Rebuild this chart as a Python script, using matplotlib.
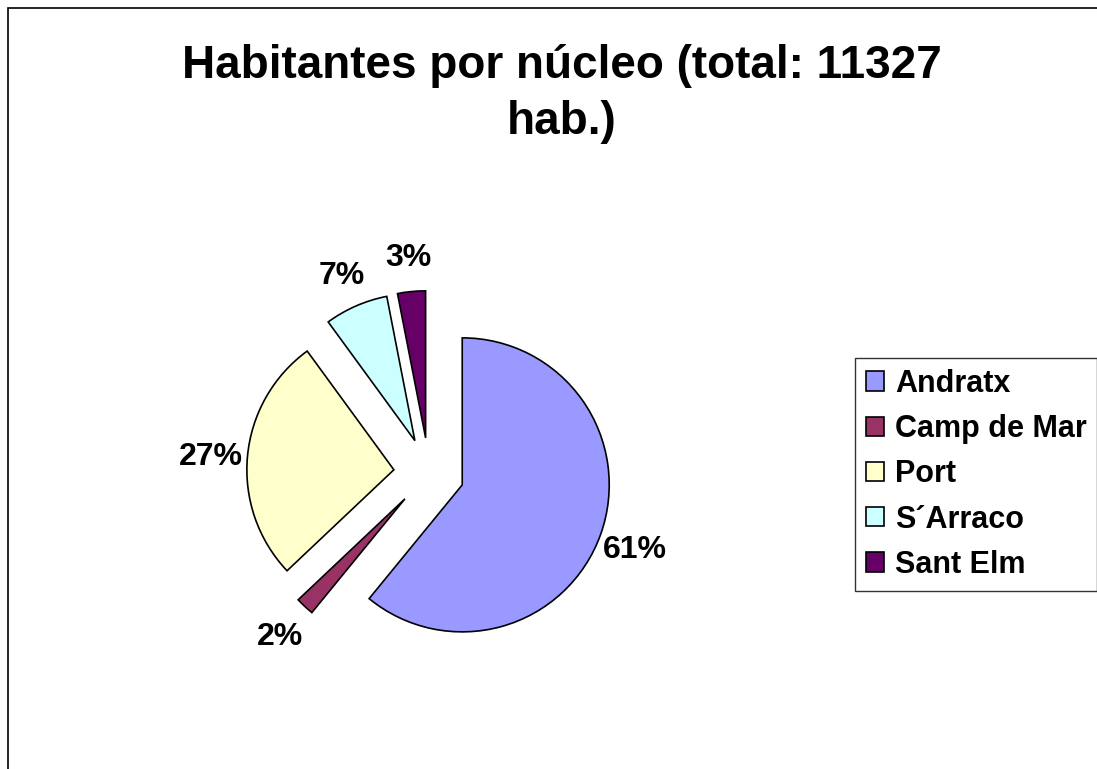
import matplotlib.pyplot as plt
from matplotlib.patches import Rectangle

plt.rcParams['font.family'] = ['Liberation Sans', 'DejaVu Sans']
plt.rcParams['font.weight'] = 'bold'

nucleos = ['Andratx', 'Camp de Mar', 'Port', 'S´Arraco', 'Sant Elm']
habitantes = [6900, 230, 3060, 790, 347]   # total 11327
colores = ['#9999FF', '#993366', '#FFFFCC', '#CCFFFF', '#660066']
titulo = 'Habitantes por núcleo (total: 11327\nhab.)'

W, H = 1097, 769
fig = plt.figure(figsize=(W / 100, H / 100), dpi=100)

# pie centre ~ (429, 473) px, radius ~147 px
cx, cy, r, half = 429, 473, 147, 250
ax = fig.add_axes([(cx - half) / W, (H - cy - half) / H, 2 * half / W, 2 * half / H])

wedges, _, autotexts = ax.pie(habitantes, colors=colores, startangle=90, counterclock=False,
                              explode=[0.24] * len(habitantes), autopct='%.0f%%',
                              pctdistance=1.25,
                              wedgeprops={'edgecolor': 'black', 'linewidth': 1.2},
                              textprops={'fontsize': 23, 'fontweight': 'bold'})
for t in autotexts:
    t.set_va('center_baseline')
lim = half / r
ax.set_xlim(-lim, lim)
ax.set_ylim(-lim, lim)
ax.set_aspect('equal')
ax.axis('off')

fig.text(562 / W, 1 - 44 / H, titulo, ha='center', va='top', fontsize=33,
         fontweight='bold', linespacing=1.35)

leg = fig.legend(wedges, nucleos, loc='upper left', bbox_to_anchor=(855 / W, 1 - 358 / H),
                 frameon=True, fancybox=False, edgecolor='black', borderaxespad=0,
                 prop={'size': 22, 'weight': 'bold'}, handlelength=0.6, handleheight=0.6,
                 handletextpad=0.36, labelspacing=0.5, borderpad=0.35)
leg.get_frame().set_linewidth(1.0)

# chart area border (runs off the right and bottom edges)
fig.patches.append(Rectangle((8 / W, -0.05), 1.2, 1 - 8 / H + 0.05, transform=fig.transFigure,
                             fill=False, edgecolor='black', linewidth=1.2))

fig.savefig('out.png', dpi=100)
